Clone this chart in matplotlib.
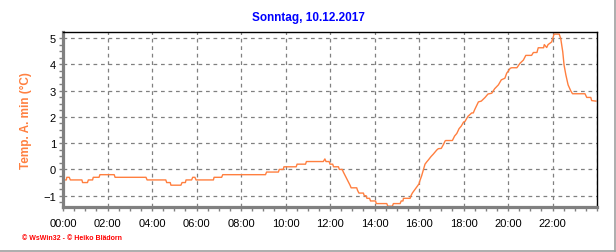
import matplotlib
matplotlib.use('Agg')
import matplotlib.pyplot as plt
from matplotlib.lines import Line2D
from matplotlib.ticker import MultipleLocator, FuncFormatter

# hour of day / minimum outdoor temperature in degC
hours = [0.0, 0.15, 0.17, 0.28, 0.33, 0.85, 0.88, 1.1, 1.14, 1.33, 1.36, 1.62,
         1.66, 2.3, 2.34, 3.73, 3.78, 4.62, 4.66, 4.82, 4.85, 5.3, 5.35, 5.5,
         5.53, 5.78, 5.83, 5.93, 5.98, 6.76, 6.79, 7.13, 7.18, 9.1, 9.15, 9.68,
         9.72, 9.9, 9.93, 10.48, 10.52, 10.9, 10.94, 11.7, 11.77, 11.82, 11.96,
         12.0, 12.12, 12.16, 12.38, 12.42, 12.55, 12.6, 12.66, 12.72, 12.78,
         12.84, 12.9, 12.95, 13.2, 13.24, 13.3, 13.5, 13.54, 13.62, 13.66,
         13.78, 13.82, 14.05, 14.08, 14.55, 14.6, 14.8, 14.85, 15.15, 15.2,
         15.28, 15.3, 15.6, 15.64, 15.7, 15.83, 15.92, 16.0, 16.04, 16.12,
         16.2, 16.27, 16.35, 16.42, 16.54, 16.64, 16.72, 16.8, 16.87, 17.0,
         17.1, 17.17, 17.2, 17.5, 17.6, 17.7, 17.8, 17.9, 18.0, 18.07, 18.2,
         18.37, 18.44, 18.5, 18.67, 18.8, 18.97, 19.1, 19.27, 19.4, 19.57,
         19.7, 19.86, 19.94, 20.1, 20.17, 20.4, 20.54, 20.69, 20.8, 21.06,
         21.14, 21.3, 21.36, 21.6, 21.63, 21.74, 21.8, 21.96, 22.0, 22.07,
         22.3, 22.37, 22.46, 22.52, 22.6, 22.7, 22.82, 22.9, 23.46, 23.54,
         23.72, 23.76, 23.95]
temps = [-0.4, -0.4, -0.3, -0.3, -0.4, -0.4, -0.5, -0.5, -0.4, -0.4, -0.3, -0.3,
         -0.2, -0.2, -0.3, -0.3, -0.4, -0.4, -0.5, -0.5, -0.6, -0.6, -0.5, -0.5,
         -0.4, -0.4, -0.3, -0.3, -0.4, -0.4, -0.3, -0.3, -0.2, -0.2, -0.1, -0.1,
         0.0, 0.0, 0.1, 0.1, 0.2, 0.2, 0.3, 0.3, 0.4, 0.3, 0.3,
         0.2, 0.2, 0.1, 0.1, 0.0, 0.0, -0.1, -0.2, -0.3, -0.4,
         -0.5, -0.6, -0.7, -0.7, -0.8, -0.9, -0.9, -1.0, -1.0, -1.1,
         -1.1, -1.2, -1.2, -1.3, -1.3, -1.4, -1.4, -1.3, -1.3, -1.2,
         -1.2, -1.1, -1.1, -1.0, -0.9, -0.75, -0.65, -0.55, -0.43, -0.24,
         0.0, 0.2, 0.29, 0.36, 0.49, 0.58, 0.66, 0.74, 0.79, 0.8,
         0.95, 1.08, 1.1, 1.1, 1.27, 1.37, 1.55, 1.65, 1.8, 1.83, 2.02,
         2.15, 2.15, 2.27, 2.57, 2.6, 2.74, 2.87, 2.9, 3.07, 3.22,
         3.41, 3.47, 3.66, 3.85, 3.87, 3.87, 4.04, 4.16, 4.34, 4.34,
         4.45, 4.45, 4.63, 4.63, 4.75, 4.64, 4.75, 4.85, 4.95, 5.15,
         5.15, 4.98, 4.48, 3.97, 3.6, 3.22, 2.99, 2.88, 2.88, 2.74,
         2.74, 2.62, 2.6]

title = 'Sonntag, 10.12.2017'
ylabel = 'Temp. A. min (°C)'
footer = '© WsWin32 - © Heiko Blädorn'

plt.rcParams['font.family'] = ['Liberation Sans', 'DejaVu Sans']

fig = plt.figure(figsize=(6.16, 2.53), dpi=100)
ax = fig.add_axes([63 / 616, 1 - 208 / 253, 534 / 616, 175 / 253])

ax.plot(hours, temps, color='#ff7f3f', lw=1.0)

ax.set_xlim(0, 24)
ax.set_ylim(-1.43, 5.23)
ax.xaxis.set_major_locator(MultipleLocator(2))
ax.xaxis.set_minor_locator(MultipleLocator(0.5))
ax.yaxis.set_major_locator(MultipleLocator(1))
ax.yaxis.set_minor_locator(MultipleLocator(0.25))
ax.xaxis.set_major_formatter(FuncFormatter(lambda v, p: '' if v >= 24 else '%02d:00' % v))
ax.grid(True, which='major', color='#808080', ls=(0, (3, 3)), lw=0.9)

for side in ('left', 'bottom'):
    ax.spines[side].set_color('#808080')
    ax.spines[side].set_linewidth(2.3)
for side in ('top', 'right'):
    ax.spines[side].set_color('black')
    ax.spines[side].set_linewidth(1.0)

ax.tick_params(which='both', color='#808080', labelsize=8, length=3, width=1, pad=2)
ax.tick_params(axis='x', pad=5)

ax.set_ylabel(ylabel, color='#ff8040', fontsize=8.5, fontweight='bold', labelpad=8)
fig.text(0.5, 1 - 18 / 253, title, color='#0000ff', fontsize=8.5, fontweight='bold',
         ha='center', va='center')
fig.text(22 / 616, 1 - 239 / 253, footer, color='#ff0000', fontsize=5, fontweight='bold',
         ha='left', va='center')

# light frame at right and bottom edges of the picture
fig.add_artist(Line2D([614.5 / 616, 614.5 / 616], [1 - 251.5 / 253, 1], color='#a0a0a0', lw=1.2))
fig.add_artist(Line2D([0, 614.5 / 616], [1 - 251.5 / 253, 1 - 251.5 / 253], color='#a0a0a0', lw=1.2))

fig.savefig('out.png', dpi=100)
